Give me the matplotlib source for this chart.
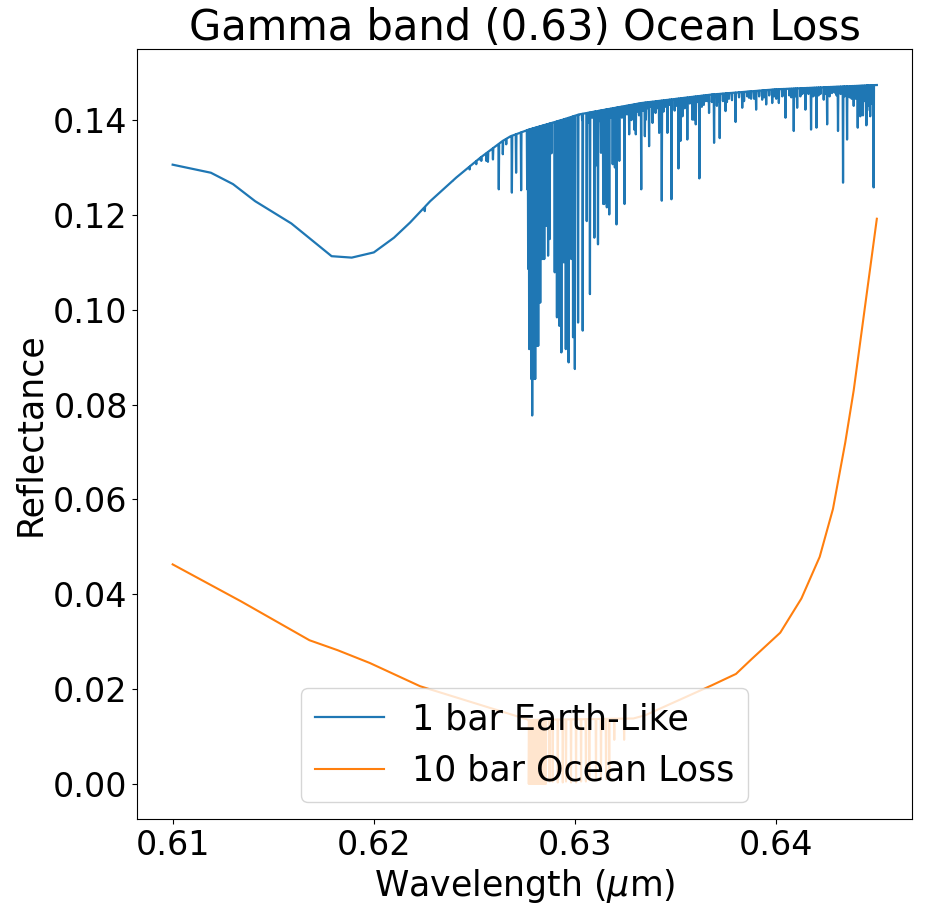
import numpy as np
import matplotlib
matplotlib.use("Agg")
import matplotlib.pyplot as plt

# ---- data ----
# 1 bar Earth-Like: continuum knots
earth_cont_wl = [0.6100, 0.6119, 0.6130, 0.6141, 0.6159, 0.6179, 0.6189, 0.6200, 0.6210,
                 0.6218, 0.6228, 0.6241, 0.6253, 0.6264, 0.6268, 0.6277, 0.6294, 0.6302,
                 0.6333, 0.6368, 0.6400, 0.6450]
earth_cont_val = [0.1306, 0.1289, 0.1265, 0.1229, 0.1182, 0.1113, 0.1110, 0.1121, 0.1152,
                  0.1184, 0.1229, 0.1279, 0.1321, 0.1356, 0.1366, 0.1380, 0.1401, 0.1412,
                  0.1436, 0.1454, 0.1465, 0.1474]

# 1 bar Earth-Like: absorption line centres and their minimum reflectance
earth_line_wl = [
    0.62253, 0.62393, 0.62476, 0.62509, 0.62526, 0.62534, 0.62559, 0.62567, 0.62592,
    0.62621, 0.62641, 0.62658, 0.62686, 0.62707, 0.62732,
    0.62762, 0.62767, 0.62772, 0.62777, 0.62782, 0.62787, 0.62792, 0.62797, 0.62802,
    0.62807, 0.62812, 0.62817, 0.62822, 0.62827, 0.62832, 0.62837, 0.62842, 0.62847,
    0.62858, 0.62866, 0.62874, 0.62883, 0.62899, 0.62910, 0.62922, 0.62932, 0.62944,
    0.62954, 0.62968, 0.62981, 0.62990, 0.62999, 0.63015, 0.63038, 0.63058, 0.63074,
    0.63096, 0.63101, 0.63114, 0.63129, 0.63140, 0.63145, 0.63152, 0.63158, 0.63164,
    0.63170, 0.63187, 0.63198, 0.63206, 0.63220, 0.63233, 0.63246, 0.63269, 0.63280,
    0.63294, 0.63302, 0.63318, 0.63329, 0.63347, 0.63352, 0.63368, 0.63385, 0.63400,
    0.63418, 0.63431, 0.63440, 0.63459, 0.63479, 0.63495, 0.63514, 0.63524, 0.63534,
    0.63545, 0.63558, 0.63583, 0.63591, 0.63600, 0.63618, 0.63630, 0.63649, 0.63666,
    0.63680, 0.63691, 0.63705, 0.63719, 0.63735, 0.63748, 0.63765, 0.63798, 0.63815,
    0.63831, 0.63856, 0.63875, 0.63900, 0.63915, 0.63930, 0.63950, 0.63965, 0.63980,
    0.64013, 0.64030, 0.64046, 0.64065, 0.64087, 0.64104, 0.64120, 0.64145, 0.64160,
    0.64173, 0.64190, 0.64200, 0.64220, 0.64236, 0.64253, 0.64265, 0.64277, 0.64290,
    0.64307, 0.64320, 0.64332, 0.64352, 0.64365, 0.64385, 0.64395, 0.64405, 0.64418,
    0.64431, 0.64440, 0.64448, 0.64458, 0.64467, 0.64475, 0.64484]
earth_line_val = [
    0.1208, 0.1272, 0.1296, 0.1307, 0.1317, 0.1314, 0.1314, 0.1312, 0.1317,
    0.1254, 0.1328, 0.1349, 0.1247, 0.1289, 0.1252,
    0.1254, 0.1086, 0.0917, 0.0917, 0.0854, 0.0777, 0.0854, 0.0854, 0.0854,
    0.0924, 0.0924, 0.0924, 0.1015, 0.1015, 0.1107, 0.1107, 0.1107, 0.1107,
    0.1177, 0.1114, 0.1149, 0.1330, 0.1079, 0.0984, 0.0966, 0.0910, 0.1100,
    0.0917, 0.0889, 0.1107, 0.0942, 0.0875, 0.0973, 0.0956, 0.1187, 0.1033,
    0.1152, 0.1303, 0.1138, 0.1331, 0.1223, 0.1223, 0.1230, 0.1216, 0.1225,
    0.1201, 0.1307, 0.1300, 0.1180, 0.1314, 0.1405, 0.1223, 0.1370, 0.1400,
    0.1380, 0.1370, 0.1410, 0.1254, 0.1366, 0.1401, 0.1345, 0.1394, 0.1415,
    0.1373, 0.1230, 0.1418, 0.1373, 0.1233, 0.1420, 0.1298, 0.1356, 0.1408,
    0.1425, 0.1359, 0.1401, 0.1401, 0.1391, 0.1277, 0.1428, 0.1440, 0.1415,
    0.1438, 0.1352, 0.1430, 0.1362, 0.1440, 0.1419, 0.1445, 0.1396, 0.1448,
    0.1426, 0.1450, 0.1445, 0.1422, 0.1450, 0.1443, 0.1433, 0.1452, 0.1436,
    0.1436, 0.1450, 0.1405, 0.1452, 0.1377, 0.1426, 0.1450, 0.1422, 0.1455,
    0.1380, 0.1452, 0.1384, 0.1455, 0.1443, 0.1391, 0.1450, 0.1457, 0.1458,
    0.1377, 0.1455, 0.1268, 0.1359, 0.1448, 0.1430, 0.1445, 0.1384, 0.1408,
    0.1410, 0.1440, 0.1389, 0.1430, 0.1408, 0.1435, 0.1258]

# 1 bar Earth-Like: weak lines forming the ragged top edge
earth_weak_wl = [0.63035, 0.63065, 0.63085, 0.63120, 0.63178, 0.63212, 0.63258, 0.63310,
                 0.63338, 0.63360, 0.63378, 0.63408, 0.63450, 0.63470, 0.63505, 0.63570,
                 0.63610, 0.63640, 0.63658, 0.63712, 0.63755, 0.63780, 0.63840, 0.63865,
                 0.63890, 0.63940, 0.63990, 0.64000, 0.64040, 0.64075, 0.64095, 0.64130,
                 0.64183, 0.64210, 0.64245, 0.64300, 0.64340, 0.64375, 0.64412, 0.64425,
                 0.64452, 0.64480]
earth_weak_val = [0.1400, 0.1395, 0.1405, 0.1398, 0.1405, 0.1410, 0.1412, 0.1418,
                  0.1420, 0.1425, 0.1428, 0.1425, 0.1428, 0.1432, 0.1430, 0.1435,
                  0.1438, 0.1432, 0.1440, 0.1440, 0.1438, 0.1442, 0.1440, 0.1447,
                  0.1445, 0.1448, 0.1450, 0.1445, 0.1452, 0.1448, 0.1450, 0.1455,
                  0.1450, 0.1452, 0.1455, 0.1452, 0.1450, 0.1445, 0.1430, 0.1425,
                  0.1420, 0.1440]

# 10 bar Ocean Loss: continuum knots
ocean_cont_wl = [0.6100, 0.6134, 0.6168, 0.6182, 0.6198, 0.6223, 0.6277, 0.6329, 0.6335,
                 0.6368, 0.6380, 0.63877, 0.6402, 0.64125, 0.64216, 0.64282, 0.64343,
                 0.64385, 0.6450]
ocean_cont_val = [0.0463, 0.0385, 0.0303, 0.0282, 0.0255, 0.0206, 0.0135, 0.0138, 0.0145,
                  0.0208, 0.0232, 0.0263, 0.0319, 0.0391, 0.0479, 0.0580, 0.0720,
                  0.0830, 0.1192]

# 10 bar Ocean Loss: absorption lines
ocean_line_wl = [0.62770, 0.62775, 0.62780, 0.62785, 0.62790, 0.62795, 0.62800, 0.62805,
                 0.62810, 0.62815, 0.62820, 0.62825, 0.62830, 0.62835, 0.62840, 0.62845,
                 0.62850, 0.62855, 0.62873, 0.62889, 0.62914, 0.62939, 0.62955, 0.62980,
                 0.63005, 0.63030, 0.63054, 0.63071, 0.63104, 0.63129, 0.63154, 0.63170,
                 0.63195, 0.63244]
ocean_line_val = [0.0000, 0.0000, 0.0000, 0.0000, 0.0000, 0.0000, 0.0000, 0.0000,
                  0.0000, 0.0000, 0.0000, 0.0000, 0.0000, 0.0000, 0.0000, 0.0000,
                  0.0000, 0.0000, 0.0005, 0.0005, 0.0003, 0.0003, 0.0005, 0.0003,
                  0.0003, 0.0005, 0.0005, 0.0008, 0.0008, 0.0010, 0.0010, 0.0015,
                  0.0093, 0.0093]

series_labels = ["1 bar Earth-Like", "10 bar Ocean Loss"]
title_text = "Gamma band (0.63) Ocean Loss"
x_ticks = [0.61, 0.62, 0.63, 0.64]
y_ticks = [0.00, 0.02, 0.04, 0.06, 0.08, 0.10, 0.12, 0.14]


def spectrum(cont_wl, cont_val, line_wl, line_val, hw=0.000018):
    cw = np.asarray(cont_wl, float)
    cv = np.asarray(cont_val, float)
    lw = np.asarray(line_wl, float)
    lv = np.asarray(line_val, float)
    edges = np.concatenate([lw - hw, lw + hw])
    edge_v = np.interp(edges, cw, cv)
    x = np.concatenate([cw, edges, lw])
    y = np.concatenate([cv, edge_v, lv])
    order = np.argsort(x, kind="stable")
    return x[order], y[order]


ex, ey = spectrum(earth_cont_wl, earth_cont_val,
                  earth_line_wl + earth_weak_wl, earth_line_val + earth_weak_val)
ox, oy = spectrum(ocean_cont_wl, ocean_cont_val, ocean_line_wl, ocean_line_val)

fig = plt.figure(figsize=(9.25, 9.16), dpi=100)
ax = fig.add_axes([0.1486, 0.1059, 0.8374, 0.8401])
ax.plot(ex, ey, color="#1f77b4", lw=1.6, label=series_labels[0])
ax.plot(ox, oy, color="#ff7f0e", lw=1.5, label=series_labels[1])

ax.set_xlim(0.60825, 0.64675)
ax.set_ylim(-0.0074, 0.1549)
ax.set_xticks(x_ticks)
ax.set_xticklabels([f"{t:.2f}" for t in x_ticks])
ax.set_yticks(y_ticks)
ax.set_yticklabels([f"{t:.2f}" for t in y_ticks])
ax.tick_params(labelsize=24)
ax.set_xlabel(r"Wavelength ($\mu$m)", fontsize=25)
ax.set_ylabel("Reflectance", fontsize=25)
ax.set_title(title_text, fontsize=30)
ax.legend(loc="lower center", fontsize=25)

fig.savefig("out.png", dpi=100)
